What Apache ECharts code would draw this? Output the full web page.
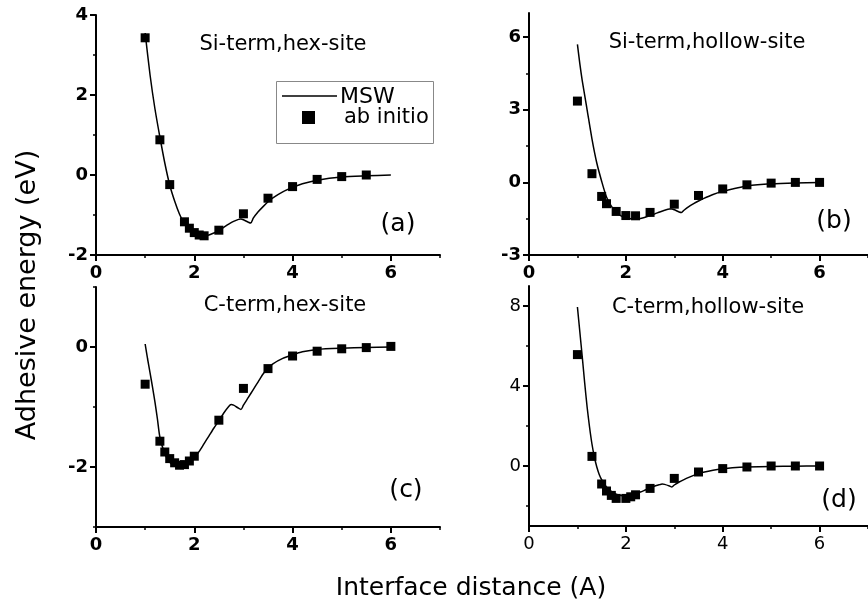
<!DOCTYPE html>
<html>
<head>
<meta charset="utf-8">
<script src="https://cdn.jsdelivr.net/npm/echarts@6/dist/echarts.min.js"></script>
<style>
  html, body { margin: 0; padding: 0; background: #fff; }
  #chart { width: 868px; height: 604px; }
</style>
</head>
<body>
<div id="chart"></div>
<script>
// ab initio points (squares)
const aAbX = [1.0, 1.3, 1.5, 1.8, 1.9, 2.0, 2.1, 2.2, 2.5, 3.0, 3.5, 4.0, 4.5, 5.0, 5.5];
const aAbY = [3.43, 0.88, -0.24, -1.17, -1.33, -1.44, -1.5, -1.52, -1.38, -0.97, -0.58, -0.29, -0.11, -0.04, 0.0];
const bAbX = [1.0, 1.3, 1.5, 1.6, 1.8, 2.0, 2.2, 2.5, 3.0, 3.5, 4.0, 4.5, 5.0, 5.5, 6.0];
const bAbY = [3.36, 0.36, -0.58, -0.88, -1.2, -1.37, -1.38, -1.24, -0.9, -0.54, -0.27, -0.1, -0.03, 0, 0];
const cAbX = [1.0, 1.3, 1.4, 1.5, 1.6, 1.7, 1.8, 1.9, 2.0, 2.5, 3.0, 3.5, 4.0, 4.5, 5.0, 5.5, 6.0];
const cAbY = [-0.62, -1.57, -1.75, -1.86, -1.93, -1.97, -1.96, -1.9, -1.82, -1.22, -0.69, -0.36, -0.15, -0.07, -0.03, -0.01, 0.01];
const dAbX = [1.0, 1.3, 1.5, 1.6, 1.7, 1.8, 2.0, 2.1, 2.2, 2.5, 3.0, 3.5, 4.0, 4.5, 5.0, 5.5, 6.0];
const dAbY = [5.57, 0.48, -0.9, -1.25, -1.47, -1.62, -1.62, -1.54, -1.44, -1.12, -0.62, -0.3, -0.13, -0.05, 0, 0, 0];

// MSW curves
const aMswX = [1.0, 1.1, 1.2, 1.3, 1.4, 1.5, 1.6, 1.7, 1.8, 1.9, 2.0, 2.1, 2.2, 2.3, 2.4, 2.5, 2.6, 2.7, 2.8, 2.9, 2.95, 3.0, 3.1, 3.15, 3.2, 3.3, 3.4, 3.5, 3.6, 3.8, 4.0, 4.2, 4.5, 5.0, 5.5, 6.0];
const aMswY = [3.55, 2.5, 1.65, 0.95, 0.3, -0.25, -0.65, -0.98, -1.22, -1.38, -1.46, -1.5, -1.52, -1.5, -1.45, -1.39, -1.31, -1.23, -1.16, -1.11, -1.1, -1.12, -1.18, -1.2, -1.08, -0.92, -0.79, -0.67, -0.57, -0.42, -0.31, -0.22, -0.13, -0.05, -0.02, 0];
const bMswX = [1.0, 1.05, 1.1, 1.17, 1.2, 1.3, 1.4, 1.5, 1.6, 1.7, 1.8, 1.9, 2.0, 2.1, 2.2, 2.3, 2.4, 2.5, 2.6, 2.7, 2.8, 2.9, 2.95, 3.0, 3.1, 3.15, 3.2, 3.3, 3.4, 3.5, 3.6, 3.8, 4.0, 4.2, 4.5, 5.0, 5.5, 6.0];
const bMswY = [5.7, 4.9, 4.2, 3.36, 3.0, 1.8, 0.8, 0.05, -0.6, -0.98, -1.24, -1.38, -1.46, -1.5, -1.51, -1.49, -1.44, -1.37, -1.3, -1.22, -1.15, -1.1, -1.1, -1.13, -1.22, -1.24, -1.15, -1.0, -0.88, -0.77, -0.67, -0.5, -0.37, -0.27, -0.15, -0.06, -0.02, 0];
const cMswX = [1.0, 1.05, 1.1, 1.15, 1.2, 1.25, 1.3, 1.4, 1.5, 1.6, 1.7, 1.8, 1.9, 2.0, 2.1, 2.2, 2.3, 2.4, 2.5, 2.6, 2.7, 2.75, 2.8, 2.9, 2.95, 3.0, 3.1, 3.2, 3.3, 3.4, 3.5, 3.6, 3.8, 4.0, 4.2, 4.5, 5.0, 5.5, 6.0];
const cMswY = [0.05, -0.2, -0.43, -0.67, -0.92, -1.2, -1.5, -1.78, -1.92, -1.98, -2.0, -1.98, -1.93, -1.85, -1.74, -1.61, -1.48, -1.35, -1.23, -1.1, -0.99, -0.96, -0.97, -1.02, -1.04, -0.97, -0.84, -0.71, -0.58, -0.45, -0.35, -0.28, -0.19, -0.13, -0.08, -0.04, -0.02, -0.01, 0];
const dMswX = [1.0, 1.05, 1.1, 1.15, 1.2, 1.25, 1.3, 1.35, 1.4, 1.45, 1.5, 1.6, 1.7, 1.8, 1.9, 2.0, 2.1, 2.2, 2.3, 2.4, 2.5, 2.6, 2.7, 2.75, 2.8, 2.9, 2.95, 3.0, 3.1, 3.2, 3.3, 3.4, 3.5, 3.6, 3.8, 4.0, 4.2, 4.5, 5.0, 5.5, 6.0];
const dMswY = [7.95, 6.7, 5.45, 4.15, 2.95, 1.95, 1.1, 0.45, -0.05, -0.42, -0.68, -1.05, -1.27, -1.41, -1.48, -1.5, -1.46, -1.39, -1.3, -1.2, -1.1, -1.0, -0.93, -0.9, -0.92, -1.0, -1.05, -0.95, -0.8, -0.68, -0.57, -0.47, -0.38, -0.31, -0.21, -0.14, -0.09, -0.05, -0.02, -0.01, 0];

// ticks
const xTickLabels = [0, 2, 4, 6];
const xMinorTicks = [1, 3, 5, 7];
const aYTicks = [-2, 0, 2, 4], aYMinor = [-1, 1, 3];
const bYTicks = [-3, 0, 3, 6], bYMinor = [-1.5, 1.5, 4.5];
const cYTicks = [-2, 0], cYMinor = [-3, -1, 1];
const dYTicks = [0, 4, 8], dYMinor = [-2, 2, 6];

const panelTitles = ['Si-term,hex-site', 'Si-term,hollow-site', 'C-term,hex-site', 'C-term,hollow-site'];
const panelLetters = ['(a)', '(b)', '(c)', '(d)'];

const zip = (xs, ys) => xs.map((x, i) => [x, ys[i]]);
const FONT = '"DejaVu Sans", "Liberation Sans", Arial, sans-serif';

const panels = [
    { grid: { left: 96, top: 15, width: 344, height: 240 }, yMin: -2, yMax: 4, yTicks: aYTicks, yMinor: aYMinor, bold: true, ab: zip(aAbX, aAbY), msw: zip(aMswX, aMswY) },
    { grid: { left: 529, top: 13, width: 344, height: 242 }, yMin: -3, yMax: 7, yTicks: bYTicks, yMinor: bYMinor, bold: true, ab: zip(bAbX, bAbY), msw: zip(bMswX, bMswY) },
    { grid: { left: 96, top: 287, width: 344, height: 240 }, yMin: -3, yMax: 1, yTicks: cYTicks, yMinor: cYMinor, bold: true, ab: zip(cAbX, cAbY), msw: zip(cMswX, cMswY) },
    { grid: { left: 529, top: 286, width: 344, height: 240 }, yMin: -3, yMax: 9, yTicks: dYTicks, yMinor: dYMinor, bold: false, ab: zip(dAbX, dAbY), msw: zip(dMswX, dMswY) }
];

const axisLine = { show: true, onZero: false, lineStyle: { color: '#000', width: 2 } };
const hiddenLine = { show: false, onZero: false };

let grids = [], xAxes = [], yAxes = [], series = [];
panels.forEach((p, i) => {
    grids.push(Object.assign({ containLabel: false }, p.grid));
    const labelStyle = { color: '#000', fontSize: 18, fontWeight: p.bold ? 'bold' : 'normal', fontFamily: FONT };
    xAxes[i] = {
        type: 'value', gridIndex: i, position: 'bottom', min: 0, max: 7,
        axisLine: axisLine, splitLine: { show: false },
        axisTick: { show: true, inside: false, length: 6, customValues: xTickLabels, lineStyle: { color: '#000', width: 2 } },
        axisLabel: Object.assign({ margin: 9, customValues: xTickLabels }, labelStyle)
    };
    xAxes[4 + i] = {
        type: 'value', gridIndex: i, position: 'bottom', min: 0, max: 7,
        axisLine: hiddenLine, splitLine: { show: false }, axisLabel: { show: false },
        axisTick: { show: true, inside: false, length: 3, customValues: xMinorTicks, lineStyle: { color: '#000', width: 1.5 } }
    };
    yAxes[i] = {
        type: 'value', gridIndex: i, position: 'left', min: p.yMin, max: p.yMax,
        axisLine: axisLine, splitLine: { show: false },
        axisTick: { show: true, inside: false, length: 6, customValues: p.yTicks, lineStyle: { color: '#000', width: 2 } },
        axisLabel: Object.assign({ margin: 8, customValues: p.yTicks }, labelStyle)
    };
    yAxes[4 + i] = {
        type: 'value', gridIndex: i, position: 'left', min: p.yMin, max: p.yMax,
        axisLine: hiddenLine, splitLine: { show: false }, axisLabel: { show: false },
        axisTick: { show: true, inside: false, length: 3, customValues: p.yMinor, lineStyle: { color: '#000', width: 1.5 } }
    };
    series.push({
        name: 'MSW', type: 'line', xAxisIndex: i, yAxisIndex: i, data: p.msw,
        symbol: 'none', smooth: 0.25, lineStyle: { color: '#000', width: 1.5 }, z: 2
    });
    series.push({
        name: 'ab initio', type: 'scatter', xAxisIndex: i, yAxisIndex: i, data: p.ab,
        symbol: 'rect', symbolSize: 9, itemStyle: { color: '#000', opacity: 1 }, z: 3
    });
});

const titlePos = [[283, 45], [707, 43], [285, 306], [708, 308]];
const letterPos = [[398, 224], [834, 221], [406, 490], [839, 500]];

const graphic = [];
panelTitles.forEach((t, i) => {
    graphic.push({ type: 'text', x: titlePos[i][0], y: titlePos[i][1],
        style: { text: t, fill: '#000', font: '21px ' + FONT, textAlign: 'center', textVerticalAlign: 'middle' } });
    graphic.push({ type: 'text', x: letterPos[i][0], y: letterPos[i][1],
        style: { text: panelLetters[i], fill: '#000', font: '25px ' + FONT, textAlign: 'center', textVerticalAlign: 'middle' } });
});
// axis names
graphic.push({ type: 'text', x: 28, y: 295, rotation: Math.PI / 2,
    style: { text: 'Adhesive energy (eV)', fill: '#000', font: '27px ' + FONT, textAlign: 'center', textVerticalAlign: 'middle' } });
graphic.push({ type: 'text', x: 471, y: 588,
    style: { text: 'Interface distance (A)', fill: '#000', font: '25px ' + FONT, textAlign: 'center', textVerticalAlign: 'middle' } });
// legend box in panel (a)
graphic.push({ type: 'rect', shape: { x: 276.5, y: 81.5, width: 157, height: 62 }, style: { fill: '#fff', stroke: '#888', lineWidth: 1 }, z: 10 });
graphic.push({ type: 'line', shape: { x1: 282, y1: 96, x2: 337, y2: 96 }, style: { stroke: '#000', lineWidth: 1.5 }, z: 11 });
graphic.push({ type: 'text', x: 340, y: 97, z: 11,
    style: { text: 'MSW', fill: '#000', font: '22px ' + FONT, textAlign: 'left', textVerticalAlign: 'middle' } });
graphic.push({ type: 'rect', shape: { x: 302, y: 111, width: 13, height: 13 }, style: { fill: '#000' }, z: 11 });
graphic.push({ type: 'text', x: 344, y: 118, z: 11,
    style: { text: 'ab initio', fill: '#000', font: '21px ' + FONT, textAlign: 'left', textVerticalAlign: 'middle' } });

const chart = echarts.init(document.getElementById('chart'), null, { renderer: 'canvas' });
chart.setOption({
    backgroundColor: '#fff',
    animation: false,
    grid: grids,
    xAxis: xAxes,
    yAxis: yAxes,
    series: series,
    graphic: graphic
});
</script>
</body>
</html>
